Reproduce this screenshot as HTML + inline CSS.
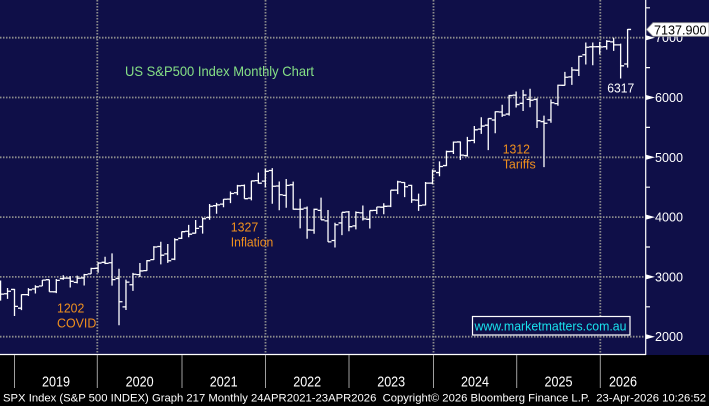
<!DOCTYPE html>
<html>
<head>
<meta charset="utf-8">
<style>
html,body{margin:0;padding:0;background:#000;}
svg{display:block;}
text{font-family:"Liberation Sans",Arial,sans-serif;}
</style>
</head>
<body>
<svg width="709" height="406" viewBox="0 0 709 406" xmlns="http://www.w3.org/2000/svg">
<rect x="0" y="0" width="709" height="406" fill="#000"/>
<rect x="0" y="0" width="709" height="355" fill="#0f0f48"/>

<!-- grid -->
<g stroke="#8c8c8c" stroke-width="1.8" stroke-dasharray="1.5 1.5" fill="none">
<path d="M0 37.7H645M0 97.5H645M0 157.3H645M0 217.1H645M0 276.9H645M0 336.7H645"/>
<path d="M97.3 0V354M265.5 0V354M433.5 0V354M600.3 0V354"/>
</g>

<!-- bars -->
<g transform="matrix(6.967 0 0 -0.0598 14.5 456.3)">
<path fill="none" stroke="#fff" stroke-width="1.3" vector-effect="non-scaling-stroke" d="
M-2 2604V2940M-2.5 2926h.5M-2 2712h.5
M-1 2632V2815M-1.5 2718h.5M-1 2760h.5
M0 2346V2800M-.5 2790h.5M0 2507h.5
M1 2444V2708M.5 2477h.5M1 2704h.5
M2 2681V2813M1.5 2703h.5M2 2784h.5
M3 2723V2860M2.5 2798h.5M3 2834h.5
M4 2848V2949M3.5 2848h.5M4 2946h.5
M5 2751V2954M4.5 2953h.5M5 2752h.5
M6 2728V2964M5.5 2751h.5M6 2942h.5
M7 2952V3028M6.5 2971h.5M7 2980h.5
M8 2822V3014M7.5 2980h.5M8 2926h.5
M9 2892V3022M8.5 2909h.5M9 2977h.5
M10 2856V3050M9.5 2983h.5M10 3038h.5
M11 3050V3154M10.5 3051h.5M11 3141h.5
M12 3070V3248M11.5 3144h.5M12 3231h.5
M13 3214V3338M12.5 3244h.5M13 3226h.5
M14 2855V3394M13.5 3236h.5M14 2954h.5
M15 2192V3137M14.5 2974h.5M15 2585h.5
M16 2447V2954M15.5 2499h.5M16 2912h.5
M17 2767V3068M16.5 2869h.5M17 3044h.5
M18 2999V3233M17.5 3038h.5M18 3100h.5
M19 3101V3280M18.5 3105h.5M19 3271h.5
M20 3285V3514M19.5 3289h.5M20 3500h.5
M21 3209V3588M20.5 3508h.5M21 3363h.5
M22 3234V3550M21.5 3385h.5M22 3270h.5
M23 3280V3646M22.5 3296h.5M23 3622h.5
M24 3633V3760M23.5 3645h.5M24 3756h.5
M25 3662V3870M24.5 3764h.5M25 3714h.5
M26 3725V3951M25.5 3731h.5M26 3811h.5
M27 3723V3994M26.5 3842h.5M27 3973h.5
M28 3955V4219M27.5 3993h.5M28 4181h.5
M29 4056V4238M28.5 4191h.5M29 4204h.5
M30 4165V4302M29.5 4217h.5M30 4298h.5
M31 4233V4429M30.5 4300h.5M31 4395h.5
M32 4367V4538M31.5 4407h.5M32 4523h.5
M33 4306V4546M32.5 4529h.5M33 4308h.5
M34 4279V4608M33.5 4317h.5M34 4605h.5
M35 4560V4744M34.5 4610h.5M35 4567h.5
M36 4495V4808M35.5 4602h.5M36 4766h.5
M37 4223V4819M36.5 4779h.5M37 4516h.5
M38 4115V4595M37.5 4520h.5M38 4374h.5
M39 4157V4637M38.5 4363h.5M39 4530h.5
M40 4124V4593M39.5 4540h.5M40 4132h.5
M41 3811V4307M40.5 4131h.5M41 4132h.5
M42 3637V4177M41.5 4150h.5M42 3785h.5
M43 3722V4141M42.5 3782h.5M43 4130h.5
M44 3955V4325M43.5 4113h.5M44 3955h.5
M45 3585V4119M44.5 3937h.5M45 3586h.5
M46 3492V3905M45.5 3609h.5M46 3872h.5
M47 3699V4080M46.5 3902h.5M47 4080h.5
M48 3764V4101M47.5 4087h.5M48 3840h.5
M49 3794V4095M48.5 3853h.5M49 4077h.5
M50 3943V4195M49.5 4071h.5M50 3970h.5
M51 3809V4110M50.5 3963h.5M51 4109h.5
M52 4049V4170M51.5 4113h.5M52 4169h.5
M53 4048V4231M52.5 4166h.5M53 4180h.5
M54 4167V4449M53.5 4183h.5M54 4450h.5
M55 4385V4607M54.5 4451h.5M55 4589h.5
M56 4335V4585M55.5 4578h.5M56 4508h.5
M57 4238V4541M56.5 4530h.5M57 4288h.5
M58 4104V4393M57.5 4284h.5M58 4194h.5
M59 4197V4588M58.5 4202h.5M59 4568h.5
M60 4547V4794M59.5 4568h.5M60 4770h.5
M61 4683V4931M60.5 4745h.5M61 4846h.5
M62 4853V5111M61.5 4862h.5M62 5096h.5
M63 5056V5265M62.5 5098h.5M63 5254h.5
M64 4954V5264M63.5 5257h.5M64 5036h.5
M65 5012V5342M64.5 5029h.5M65 5278h.5
M66 5234V5523M65.5 5283h.5M66 5460h.5
M67 5391V5670M66.5 5471h.5M67 5522h.5
M68 5120V5651M67.5 5537h.5M68 5648h.5
M69 5403V5767M68.5 5624h.5M69 5762h.5
M70 5675V5878M69.5 5758h.5M70 5705h.5
M71 5697V6044M70.5 5723h.5M71 6032h.5
M72 5833V6100M71.5 6040h.5M72 5882h.5
M73 5774V6128M72.5 5903h.5M73 6041h.5
M74 5837V6147M73.5 5969h.5M74 5955h.5
M75 5489V5987M74.5 5968h.5M75 5612h.5
M76 4835V5696M75.5 5598h.5M76 5569h.5
M77 5578V5968M76.5 5625h.5M77 5912h.5
M78 5861V6215M77.5 5897h.5M78 6205h.5
M79 6201V6428M78.5 6204h.5M79 6339h.5
M80 6212V6508M79.5 6345h.5M80 6460h.5
M81 6360V6699M80.5 6457h.5M81 6688h.5
M82 6551V6920M81.5 6715h.5M82 6840h.5
M83 6539V6920M82.5 6848h.5M83 6849h.5
M84 6720V6930M83.5 6850h.5M84 6845h.5
M85 6800V6960M84.5 6850h.5M85 6940h.5
M86 6780V7000M85.5 6930h.5M86 6880h.5
M87 6317V6900M86.5 6880h.5M87 6530h.5
M88 6500V7145M87.5 6560h.5M88 7138h.5"/>
</g>

<!-- title & annotations -->
<text x="125" y="76" font-size="14" fill="#86e086" textLength="189" lengthAdjust="spacingAndGlyphs">US S&amp;P500 Index Monthly Chart</text>
<g fill="#f0901e" font-size="13">
<text x="57" y="312.3" textLength="27.3" lengthAdjust="spacingAndGlyphs">1202</text>
<text x="57" y="327.7" textLength="39.3" lengthAdjust="spacingAndGlyphs">COVID</text>
<text x="230.7" y="231.7" textLength="27.6" lengthAdjust="spacingAndGlyphs">1327</text>
<text x="230.7" y="246.7" textLength="42.6" lengthAdjust="spacingAndGlyphs">Inflation</text>
<text x="502.7" y="153.3" textLength="27.3" lengthAdjust="spacingAndGlyphs">1312</text>
<text x="502.7" y="168.3" textLength="33" lengthAdjust="spacingAndGlyphs">Tariffs</text>
</g>
<text x="607.3" y="92.7" font-size="13" fill="#fff" textLength="27" lengthAdjust="spacingAndGlyphs">6317</text>

<!-- watermark -->
<rect x="472.5" y="316.5" width="157.5" height="18.5" fill="#0f0f48" stroke="#fff" stroke-width="1.2"/>
<text x="474.5" y="330.5" font-size="13" fill="#19e3ee" textLength="152" lengthAdjust="spacingAndGlyphs">www.marketmatters.com.au</text>

<!-- axes lines -->
<path d="M645.7 0V355M0 354.5H646" stroke="#fff" stroke-width="1.2" fill="none"/>
<!-- minor ticks -->
<path d="M646 7.8H650M646 67.6H650M646 127.4H650M646 187.2H650M646 247H650M646 306.8H650" stroke="#fff" stroke-width="1.2"/>
<!-- major arrows -->
<g fill="#fff">
<polygon points="646,35.2 655,37.7 646,40.2"/>
<polygon points="646,95 655,97.5 646,100"/>
<polygon points="646,154.8 655,157.3 646,159.8"/>
<polygon points="646,214.6 655,217.1 646,219.6"/>
<polygon points="646,274.4 655,276.9 646,279.4"/>
<polygon points="646,334.2 655,336.7 646,339.2"/>
</g>
<g fill="#fff" font-size="13">
<text x="655" y="42.2" textLength="28" lengthAdjust="spacingAndGlyphs">7000</text>
<text x="655" y="102" textLength="28" lengthAdjust="spacingAndGlyphs">6000</text>
<text x="655" y="161.8" textLength="28" lengthAdjust="spacingAndGlyphs">5000</text>
<text x="655" y="221.6" textLength="28" lengthAdjust="spacingAndGlyphs">4000</text>
<text x="655" y="281.4" textLength="28" lengthAdjust="spacingAndGlyphs">3000</text>
<text x="655" y="341.2" textLength="28" lengthAdjust="spacingAndGlyphs">2000</text>
</g>

<!-- price tag -->
<polygon points="646.5,29.5 653,22.7 709,22.7 709,36.3 653,36.3" fill="#fff" stroke="#999" stroke-width="0.8"/>
<text x="654" y="34.3" font-size="13" fill="#000" textLength="52.5" lengthAdjust="spacingAndGlyphs">7137.900</text>

<!-- x axis -->
<path d="M14.5 355V388M97.3 355V388M182 355V388M265.5 355V388M349 355V388M433.5 355V388M516.7 355V388M600.3 355V388" stroke="#a0a0a0" stroke-width="1"/>
<g fill="#fff" font-size="15" text-anchor="middle">
<text x="56" y="386.5" textLength="28" lengthAdjust="spacingAndGlyphs">2019</text>
<text x="139.6" y="386.5" textLength="28" lengthAdjust="spacingAndGlyphs">2020</text>
<text x="223.7" y="386.5" textLength="28" lengthAdjust="spacingAndGlyphs">2021</text>
<text x="307.2" y="386.5" textLength="28" lengthAdjust="spacingAndGlyphs">2022</text>
<text x="391.2" y="386.5" textLength="28" lengthAdjust="spacingAndGlyphs">2023</text>
<text x="475" y="386.5" textLength="28" lengthAdjust="spacingAndGlyphs">2024</text>
<text x="558.5" y="386.5" textLength="28" lengthAdjust="spacingAndGlyphs">2025</text>
<text x="623" y="386.5" textLength="28" lengthAdjust="spacingAndGlyphs">2026</text>
</g>
<text x="3" y="401.7" font-size="11" fill="#fff" textLength="703" lengthAdjust="spacingAndGlyphs" xml:space="preserve">SPX Index (S&amp;P 500 INDEX) Graph 217 Monthly 24APR2021-23APR2026  Copyright© 2026 Bloomberg Finance L.P.  23-Apr-2026 10:26:52</text>
</svg>
</body>
</html>
